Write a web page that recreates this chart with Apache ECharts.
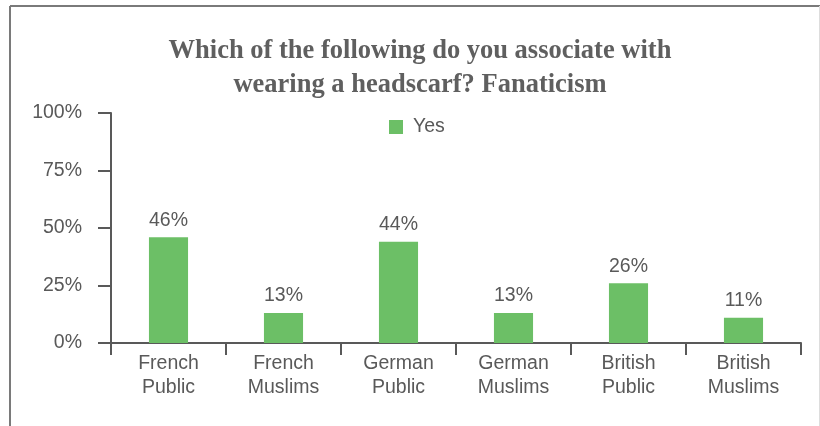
<!DOCTYPE html>
<html>
<head>
<meta charset="utf-8">
<script src="https://cdn.jsdelivr.net/npm/echarts@6/dist/echarts.min.js"></script>
<style>
html,body{margin:0;padding:0;background:#fff;}
#c{width:820px;height:426px;}
</style>
</head>
<body>
<div id="c"></div>
<script>
const titleText = "Which of the following do you associate with\nwearing a headscarf? Fanaticism";
const categories = ["French\nPublic", "French\nMuslims", "German\nPublic", "German\nMuslims", "British\nPublic", "British\nMuslims"];
const seriesName = "Yes";
const yesValues = [46, 13, 44, 13, 26, 11];
const yTicks = [0, 25, 50, 75, 100];

const textColor = '#595959';
const fontFam = '"Liberation Sans", Arial, Helvetica, sans-serif';
const chart = echarts.init(document.getElementById('c'), null, {renderer: 'canvas'});
chart.setOption({
  animation: false,
  backgroundColor: '#ffffff',
  title: {
    text: titleText,
    left: 415,
    top: 29,
    textAlign: 'center',
    textStyle: {
      fontFamily: '"Liberation Serif", "Times New Roman", serif',
      fontWeight: 'bold',
      fontSize: 26.5,
      lineHeight: 34,
      color: '#5f5f5f'
    }
  },
  legend: {
    data: [seriesName],
    left: 389,
    top: 117,
    icon: 'rect',
    itemWidth: 14,
    itemHeight: 14,
    itemGap: 10,
    padding: 0,
    textStyle: {fontFamily: fontFam, fontSize: 19.5, color: textColor, padding: [0, 0, 0, 5]}
  },
  grid: {left: 111, right: 19, top: 113, bottom: 83, containLabel: false},
  xAxis: {
    type: 'category',
    data: categories,
    boundaryGap: true,
    axisLine: {show: true, lineStyle: {color: textColor, width: 2}},
    axisTick: {show: true, length: 12, alignWithLabel: false, lineStyle: {color: textColor, width: 2}},
    axisLabel: {fontFamily: fontFam, fontSize: 19.5, lineHeight: 24, color: textColor, margin: 9, interval: 0}
  },
  yAxis: {
    type: 'value',
    min: yTicks[0],
    max: yTicks[yTicks.length - 1],
    interval: yTicks[1] - yTicks[0],
    axisLine: {show: true, lineStyle: {color: textColor, width: 2}},
    axisTick: {show: true, length: 13, lineStyle: {color: textColor, width: 2}},
    splitLine: {show: false},
    axisLabel: {fontFamily: fontFam, fontSize: 19.5, color: textColor, margin: 29, formatter: '{value}%'}
  },
  series: [{
    name: seriesName,
    type: 'bar',
    data: yesValues,
    barWidth: '34%',
    itemStyle: {color: '#6CBF66'},
    label: {
      show: true,
      position: 'top',
      distance: 7,
      formatter: '{c}%',
      fontFamily: fontFam,
      fontSize: 19.5,
      color: textColor
    }
  }],
  graphic: [
    {type: 'line', shape: {x1: 10, y1: 6, x2: 820, y2: 6}, style: {stroke: '#7a7a7a', lineWidth: 2}},
    {type: 'line', shape: {x1: 10, y1: 6, x2: 10, y2: 426}, style: {stroke: '#7a7a7a', lineWidth: 2}},
    {type: 'line', shape: {x1: 819.5, y1: 6, x2: 819.5, y2: 426}, style: {stroke: '#dddddd', lineWidth: 1}}
  ]
});
</script>
</body>
</html>
